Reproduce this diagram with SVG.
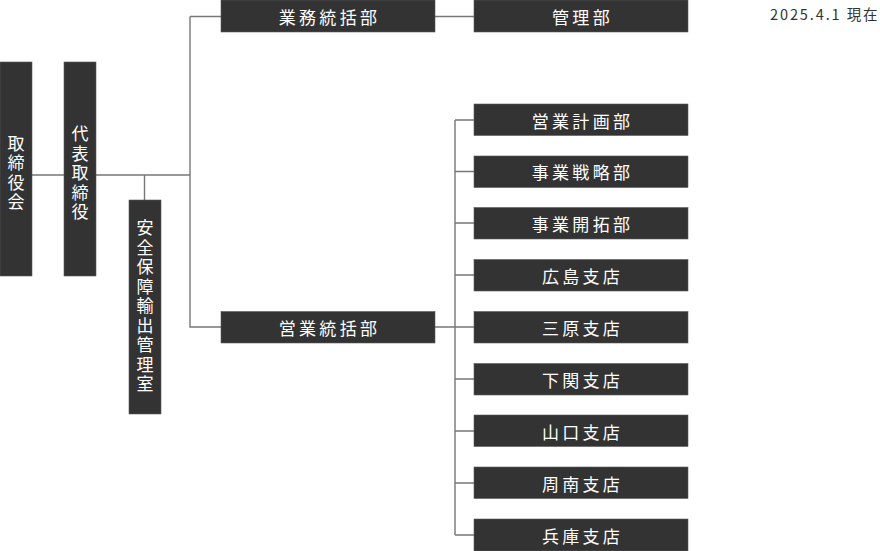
<svg xmlns="http://www.w3.org/2000/svg" width="880" height="551" viewBox="0 0 880 551">
<style>
.box{fill:#333333;stroke:#5a5a5a;stroke-width:0.6}
.t{fill:#ffffff;font-family:"Noto Sans CJK JP","Noto Sans",sans-serif;font-size:17px;letter-spacing:3.3px;text-anchor:middle;dominant-baseline:central}
.v{fill:#ffffff;font-family:"Noto Sans CJK JP","Noto Sans",sans-serif;font-size:17px;writing-mode:vertical-rl;text-anchor:middle;letter-spacing:2.5px}
.ln{stroke:#777777;stroke-width:1.4;fill:none}
.date{fill:#333333;font-family:"Noto Sans CJK JP","Noto Sans",sans-serif;font-size:14.5px;letter-spacing:1.9px}
</style>
<g id="connectors">
<path class="ln" d="M32 175H64M96 175H190M144.5 175V200M190 16.5V327H221M190 16.5H221M435 16.5H474M435 327H474M455 120V535M455 120H474M455 171.5H474M455 223H474M455 275H474M455 379H474M455 431H474M455 483H474M455 535H474"/>
</g>
<g id="board"><rect class="box" x="0" y="62" width="32" height="214"/><text class="v" x="16" y="174">取締役会</text></g>
<g id="president"><rect class="box" x="64" y="62" width="32" height="214"/><text class="v" x="80" y="174">代表取締役</text></g>
<g id="security"><rect class="box" x="129" y="200" width="32" height="214"/><text class="v" x="145" y="307">安全保障輸出管理室</text></g>
<g id="gyomu"><rect class="box" x="221" y="0" width="214" height="32"/><text class="t" x="329.5" y="16">業務統括部</text></g>
<g id="kanri"><rect class="box" x="474" y="0" width="214" height="32"/><text class="t" x="582.5" y="16">管理部</text></g>
<g id="eigyo"><rect class="box" x="221" y="311.5" width="214" height="31.5"/><text class="t" x="329.5" y="327">営業統括部</text></g>
<g id="keikaku"><rect class="box" x="474" y="104" width="214" height="31.5"/><text class="t" x="582.5" y="120">営業計画部</text></g>
<g id="senryaku"><rect class="box" x="474" y="156" width="214" height="31.5"/><text class="t" x="582.5" y="171.5">事業戦略部</text></g>
<g id="kaitaku"><rect class="box" x="474" y="207.5" width="214" height="31.5"/><text class="t" x="582.5" y="223">事業開拓部</text></g>
<g id="hiroshima"><rect class="box" x="474" y="259.5" width="214" height="31.5"/><text class="t" x="582.5" y="275">広島支店</text></g>
<g id="mihara"><rect class="box" x="474" y="311.5" width="214" height="31.5"/><text class="t" x="582.5" y="327">三原支店</text></g>
<g id="shimonoseki"><rect class="box" x="474" y="363.5" width="214" height="31.5"/><text class="t" x="582.5" y="379">下関支店</text></g>
<g id="yamaguchi"><rect class="box" x="474" y="415" width="214" height="31.5"/><text class="t" x="582.5" y="431">山口支店</text></g>
<g id="shunan"><rect class="box" x="474" y="467" width="214" height="31.5"/><text class="t" x="582.5" y="483">周南支店</text></g>
<g id="hyogo"><rect class="box" x="474" y="519" width="214" height="32"/><text class="t" x="582.5" y="535">兵庫支店</text></g>
<text class="date" x="770" y="20">2025.4.1 現在</text>
</svg>
